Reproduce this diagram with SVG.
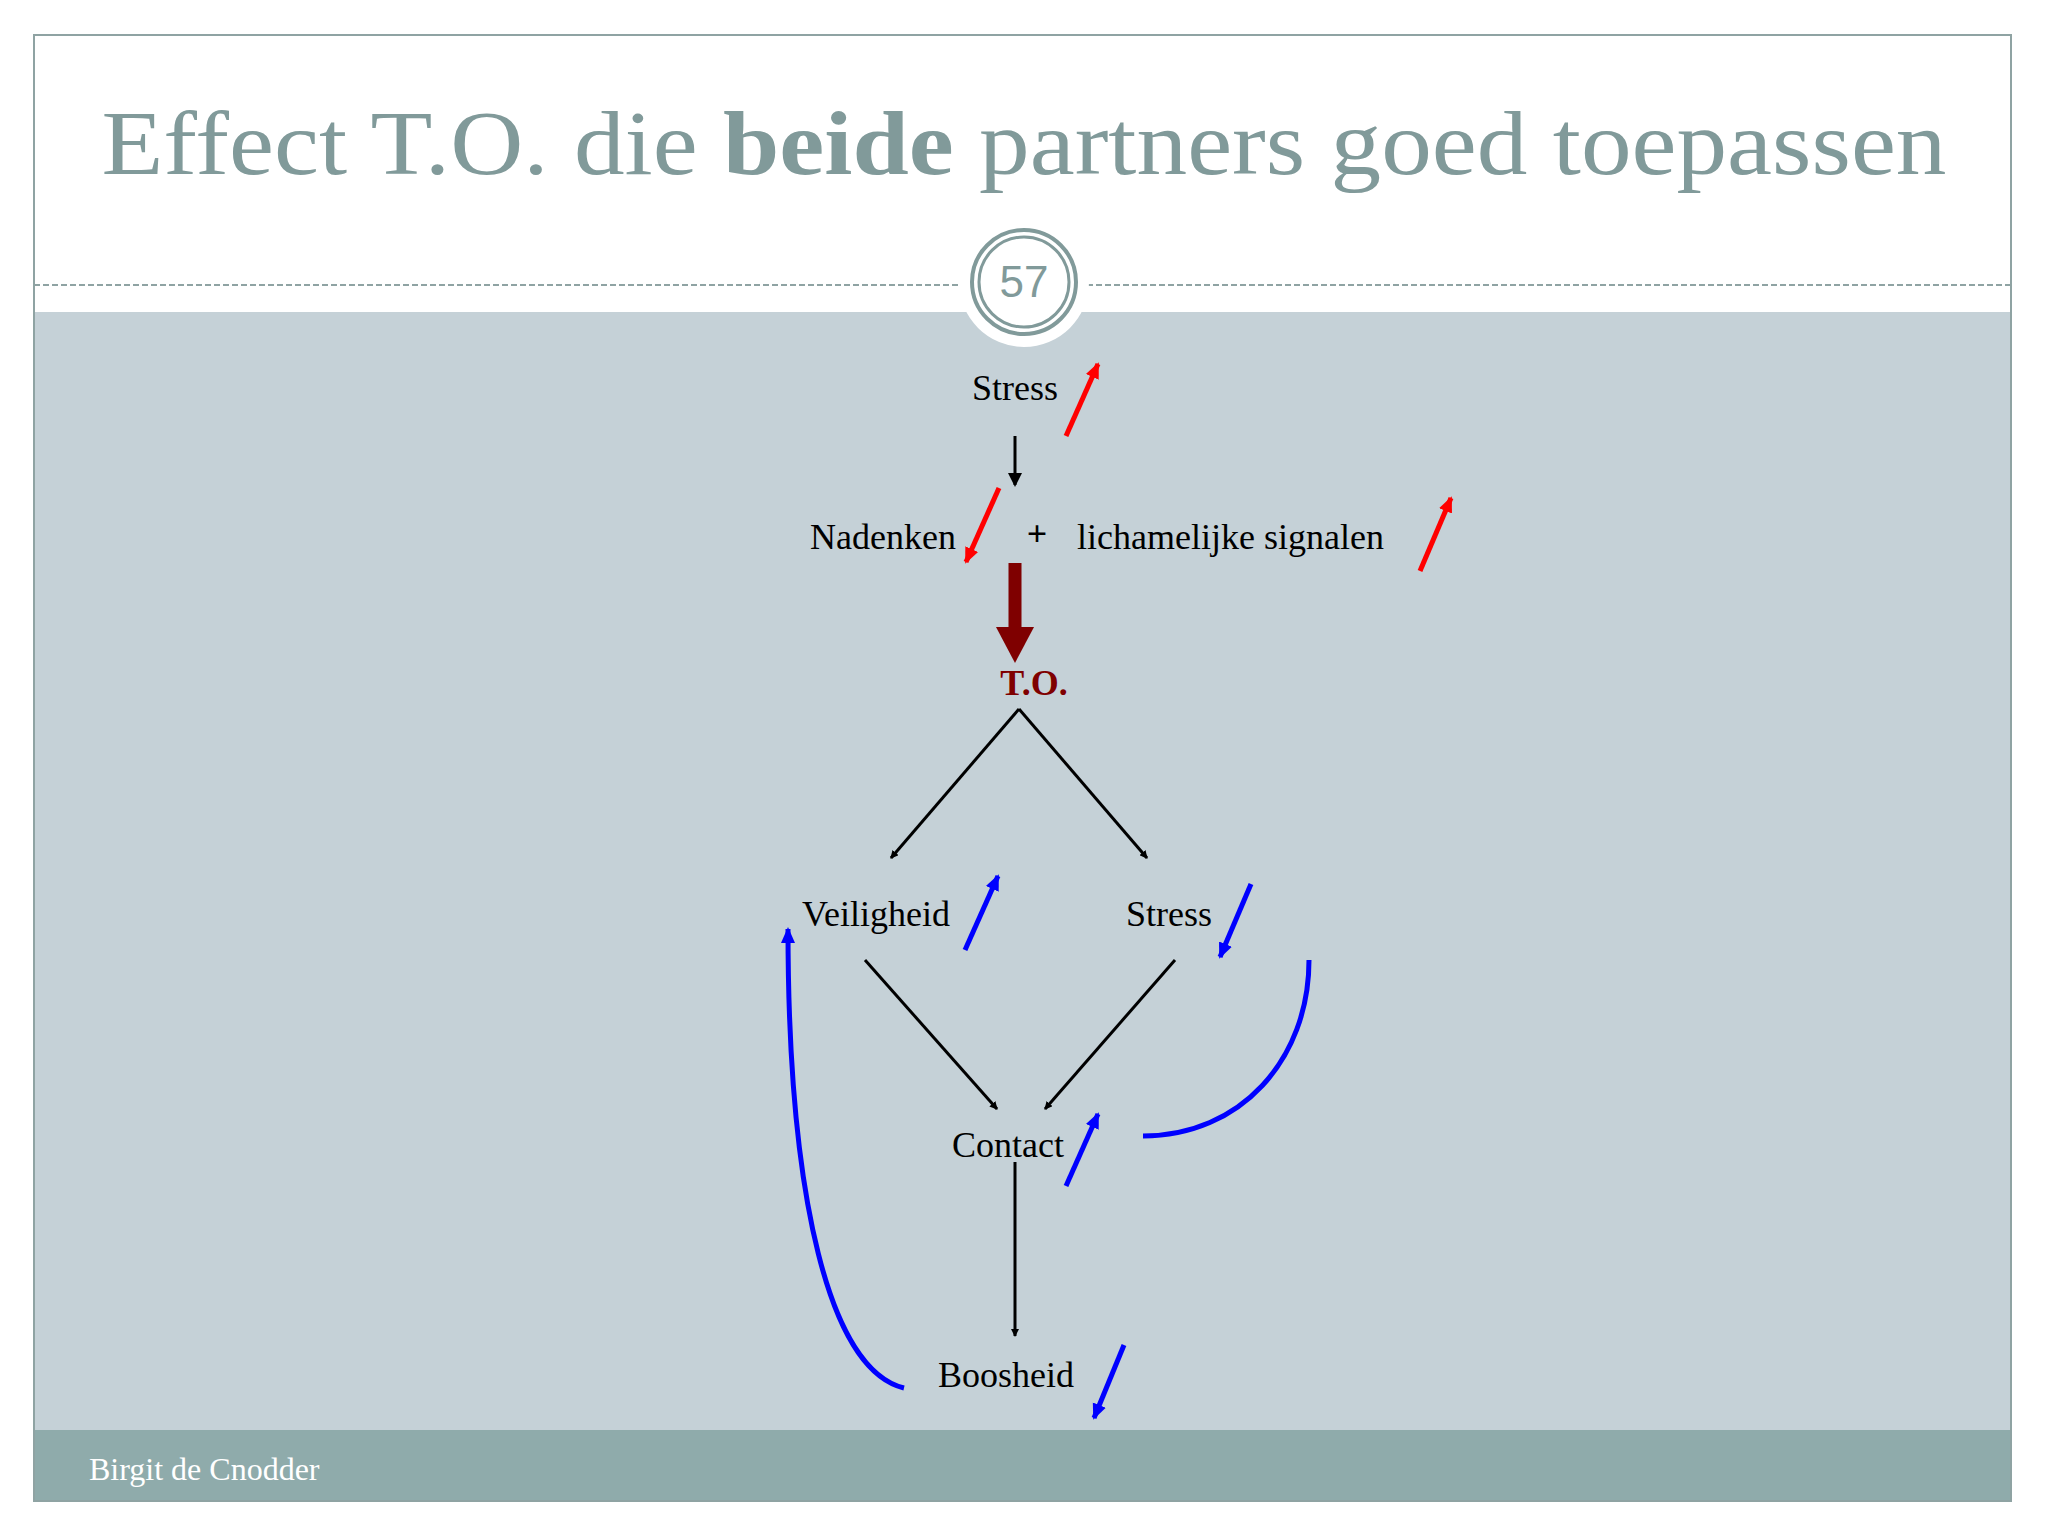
<svg xmlns="http://www.w3.org/2000/svg" width="2048" height="1536" viewBox="0 0 2048 1536">
<style>
.t{font-family:"Liberation Serif","DejaVu Serif",serif;font-size:36px;fill:#000}
.k{stroke:#000;stroke-width:3;fill:none}
.r{stroke:#f00;stroke-width:5;fill:none}
.b{stroke:#00f;stroke-width:5;fill:none}
</style>
<defs>
<marker id="mk" markerWidth="8" markerHeight="8" refX="7" refY="4" orient="auto" markerUnits="userSpaceOnUse" viewBox="0 0 8 8"><path d="M0,0L8,4L0,8z" fill="#000"/></marker>
<marker id="mkb" markerWidth="14" markerHeight="14" refX="12" refY="7" orient="auto" markerUnits="userSpaceOnUse"><path d="M0,0L14,7L0,14z" fill="#000"/></marker>
<marker id="mr" markerWidth="16" markerHeight="16" refX="14" refY="8" orient="auto" markerUnits="userSpaceOnUse"><path d="M0,1L16,8L0,15z" fill="#f00"/></marker>
<marker id="mb" markerWidth="16" markerHeight="16" refX="14" refY="8" orient="auto" markerUnits="userSpaceOnUse"><path d="M0,1L16,8L0,15z" fill="#00f"/></marker>
</defs>
<rect width="2048" height="1536" fill="#fff"/>
<rect x="34" y="312" width="1977" height="1118" fill="#c5d1d7"/>
<rect x="34" y="1430" width="1977" height="71" fill="#8fabab"/>
<rect x="34" y="35" width="1977" height="1466" fill="none" stroke="#8fa3a3" stroke-width="2"/>
<text x="1024" y="174" text-anchor="middle" font-family="Liberation Serif,serif" font-size="92" fill="#819a9a" textLength="1845" lengthAdjust="spacingAndGlyphs">Effect T.O. die <tspan font-weight="bold">beide</tspan> partners goed toepassen</text>
<line x1="34" y1="285" x2="2011" y2="285" stroke="#8fa3a3" stroke-width="2" stroke-dasharray="6,3"/>
<circle cx="1024" cy="282" r="65" fill="#fff"/>
<circle cx="1024" cy="282" r="52" fill="none" stroke="#819a9a" stroke-width="4"/>
<circle cx="1024" cy="282" r="45" fill="none" stroke="#819a9a" stroke-width="3"/>
<text x="1024" y="297" text-anchor="middle" font-family="Liberation Sans,sans-serif" font-size="44" fill="#819a9a">57</text>
<text x="89" y="1480" font-family="Liberation Serif,serif" font-size="32" fill="#fff">Birgit de Cnodder</text>

<g id="n-stress1"><text class="t" x="1015" y="400" text-anchor="middle">Stress</text></g>
<g id="n-nadenken"><text class="t" x="810" y="549">Nadenken</text></g>
<g id="n-plus"><text class="t" x="1037" y="546" text-anchor="middle" font-weight="bold">+</text></g>
<g id="n-lich"><text class="t" x="1077" y="549">lichamelijke signalen</text></g>
<g id="n-to"><text class="t" x="1034" y="695" text-anchor="middle" font-weight="bold" fill="#7f0000" style="fill:#7f0000">T.O.</text></g>
<g id="n-veil"><text class="t" x="802" y="926">Veiligheid</text></g>
<g id="n-stress2"><text class="t" x="1126" y="926">Stress</text></g>
<g id="n-contact"><text class="t" x="952" y="1157">Contact</text></g>
<g id="n-boos"><text class="t" x="938" y="1387">Boosheid</text></g>

<g id="connectors">
<line class="k" x1="1015" y1="436" x2="1015" y2="485" stroke-width="5" marker-end="url(#mkb)"/>
<line x1="1015" y1="563" x2="1015" y2="630" stroke="#7f0000" stroke-width="13"/>
<path d="M996,627L1034,627L1015,663z" fill="#7f0000"/>
<line class="k" x1="1019" y1="709" x2="891" y2="858" marker-end="url(#mk)"/>
<line class="k" x1="1019" y1="709" x2="1147" y2="858" marker-end="url(#mk)"/>
<line class="k" x1="865" y1="960" x2="997" y2="1109" marker-end="url(#mk)"/>
<line class="k" x1="1175" y1="960" x2="1045" y2="1109" marker-end="url(#mk)"/>
<line class="k" x1="1015" y1="1162" x2="1015" y2="1336" marker-end="url(#mk)"/>
<line class="r" x1="1066" y1="436" x2="1098" y2="364" marker-end="url(#mr)"/>
<line class="r" x1="999" y1="488" x2="966" y2="562" marker-end="url(#mr)"/>
<line class="r" x1="1420" y1="571" x2="1451" y2="498" marker-end="url(#mr)"/>
<line class="b" x1="965" y1="950" x2="998" y2="876" marker-end="url(#mb)"/>
<line class="b" x1="1251" y1="884" x2="1220" y2="957" marker-end="url(#mb)"/>
<line class="b" x1="1066" y1="1186" x2="1098" y2="1114" marker-end="url(#mb)"/>
<line class="b" x1="1124" y1="1345" x2="1094" y2="1418" marker-end="url(#mb)"/>
<path class="b" d="M1309,960C1309,1060 1240,1136 1143,1136"/>
<path class="b" d="M904,1388C830,1370 788,1200 788,929" marker-end="url(#mb)"/>
</g>
</svg>
